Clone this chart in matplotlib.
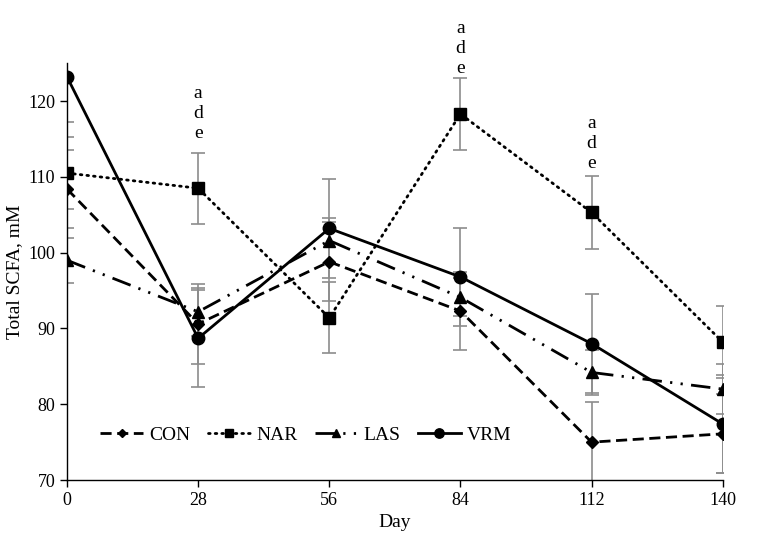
import matplotlib
matplotlib.use("Agg")
import matplotlib.pyplot as plt

plt.rcParams['font.family'] = ['Liberation Serif', 'DejaVu Serif']

days = [0, 28, 56, 84, 112, 140]
series = ["CON", "NAR", "LAS", "VRM"]
con = [108.4, 90.6, 98.8, 92.3, 75.0, 76.1]
nar = [110.5, 108.5, 91.4, 118.3, 105.3, 88.2]
las = [99.0, 92.2, 101.6, 94.1, 84.2, 82.0]
vrm = [123.2, 88.7, 103.2, 96.8, 88.0, 77.4]
con_err = [5.2, 5.3, 5.2, 5.2, 5.3, 5.2]
nar_err = [4.7, 4.7, 4.7, 4.7, 4.75, 4.8]
las_err = [3.0, 3.2, 3.0, 2.5, 3.0, 3.3]
vrm_err = [6.0, 6.4, 6.5, 6.5, 6.5, 6.5]
annot_days = [28, 84, 112]
annot_letters = ["a", "d", "e"]
annot_base = [115.7, 124.3, 111.7]

values = [con, nar, las, vrm]
errs = [con_err, nar_err, las_err, vrm_err]
markers = ['D', 's', '^', 'o']
msizes = [6, 8, 8, 9]
styles = [(0, (4, 2)), (0, (0.6, 1.8)), (0, (7, 3, 0.8, 3, 0.8, 3)), '-']

fig = plt.figure(figsize=(7.64, 5.40), dpi=100)
ax = fig.add_axes([0.0877, 0.111, 0.8583, 0.772])

for name, v, e, m, ms, ls in zip(series, values, errs, markers, msizes, styles):
    eb = ax.errorbar(days, v, yerr=e, fmt='none', ecolor='#8c8c8c', elinewidth=1.2,
                     capsize=5, capthick=1.2, zorder=1)
    for cap in eb[1]:
        cap.set_clip_path(ax.patch)
    for col in eb[2]:
        col.set_clip_path(ax.patch)
    ax.plot(days, v, color='black', linestyle=ls, linewidth=2, marker=m,
            markersize=ms, label=name, zorder=3,
            dash_capstyle='round' if name == 'NAR' else 'butt')

for d, base in zip(annot_days, annot_base):
    for i, letter in enumerate(annot_letters[::-1]):
        ax.text(d, base + i * 2.65, letter, ha='center', va='center',
                fontsize=14, clip_on=False)

ax.set_xlim(0, 140)
ax.set_ylim(70, 125)
ax.set_xticks(days)
ax.set_yticks([70, 80, 90, 100, 110, 120])
ax.tick_params(axis='both', direction='out', length=5, labelsize=13, width=1)
ax.spines['top'].set_visible(False)
ax.spines['right'].set_visible(False)
for sp in ['left', 'bottom']:
    ax.spines[sp].set_linewidth(1)
ax.set_xlabel("Day", fontsize=14, labelpad=4)
ax.set_ylabel("Total SCFA, mM", fontsize=14, labelpad=4)

ax.legend(loc='center left', bbox_to_anchor=(0.03, 0.108), ncol=4, frameon=False,
          fontsize=14, handlelength=2.2, columnspacing=0.9, handletextpad=0.3,
          markerscale=0.75, borderpad=0.2)

fig.savefig("out.png", dpi=100)
